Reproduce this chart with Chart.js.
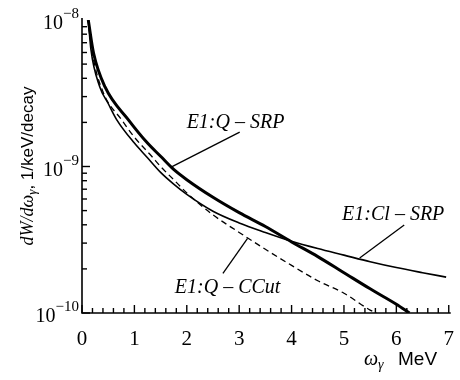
<!DOCTYPE html>
<html>
<head>
<meta charset="utf-8">
<script src="https://cdn.jsdelivr.net/npm/chart.js@4.4.0/dist/chart.umd.min.js"></script>
<style>
  html, body { margin: 0; padding: 0; background: #fff; }
  #wrap { width: 460px; height: 380px; }
</style>
</head>
<body>
<div id="wrap"><canvas id="specChart" width="460" height="380"></canvas></div>
<script>
// energies in MeV, values as log10(dW/dw)
const qSrpE   = [0.12, 0.22, 0.44, 0.89, 1.25, 1.5, 1.75, 2.0, 2.5, 3.0, 3.5, 4.0, 4.5, 5.0, 5.5, 6.0, 6.25];
const qSrpLog = [-8.0, -8.225, -8.457, -8.683, -8.84, -8.93, -9.02, -9.09, -9.21, -9.315, -9.41, -9.515, -9.615, -9.725, -9.835, -9.94, -10.0];

const clSrpE   = [0.12, 0.17, 0.34, 0.5, 0.667, 1.0, 1.25, 1.5, 1.75, 2.0, 2.5, 3.0, 3.5, 4.0, 4.5, 5.0, 5.5, 6.0, 6.5, 6.95];
const clSrpLog = [-8.0, -8.2, -8.457, -8.57, -8.683, -8.84, -8.94, -9.04, -9.12, -9.19, -9.305, -9.385, -9.45, -9.51, -9.56, -9.605, -9.65, -9.69, -9.725, -9.755];

const qCcutE   = [0.12, 0.2, 0.4, 0.76, 1.0, 1.33, 1.5, 1.75, 2.0, 2.5, 3.0, 3.5, 4.0, 4.5, 5.0, 5.5, 5.62];
const qCcutLog = [-8.0, -8.23, -8.49, -8.683, -8.80, -8.93, -9.0, -9.09, -9.18, -9.33, -9.45, -9.565, -9.675, -9.78, -9.865, -9.98, -10.0];

const xTicks = [0, 1, 2, 3, 4, 5, 6, 7];
const yDecades = [-8, -9, -10];

// curve labels: text, label position, leader line start/end (data coords, log10 y)
const curveLabels = [
  { text: 'E1:Q \u2013 SRP',  at: [2.93, -8.70], from: [3.01, -8.765], to: [1.71, -9.003] },
  { text: 'E1:Cl \u2013 SRP', at: [5.94, -9.33], from: [6.15, -9.40],  to: [5.30, -9.625] },
  { text: 'E1:Q \u2013 CCut', at: [2.78, -9.83], from: [2.69, -9.73],  to: [3.16, -9.49] }
];

function toPoints(es, logs) {
  return es.map((e, i) => ({ x: e, y: Math.pow(10, logs[i]) }));
}

const serif = '"Liberation Serif", "DejaVu Serif", serif';
const sans = '"Liberation Sans", Arial, sans-serif';

const decorPlugin = {
  id: 'decor',
  afterDraw(chart) {
    const ctx = chart.ctx;
    const xs = chart.scales.x, ys = chart.scales.y;
    const left = xs.left, bottom = ys.bottom, top = ys.top, right = xs.right;
    ctx.save();
    ctx.setLineDash([]);
    ctx.strokeStyle = '#000';
    ctx.fillStyle = '#000';

    // axis lines
    ctx.lineWidth = 1.6;
    ctx.beginPath();
    ctx.moveTo(left, top - 2);
    ctx.lineTo(left, bottom);
    ctx.lineTo(right + 2, bottom);
    ctx.stroke();

    // x ticks (inward)
    ctx.lineWidth = 1.4;
    for (let i = 0; i <= 35; i++) {
      const px = xs.getPixelForValue(i * 0.2);
      const len = (i % 5 === 0) ? 8 : 5;
      ctx.beginPath();
      ctx.moveTo(px, bottom);
      ctx.lineTo(px, bottom - len);
      ctx.stroke();
    }
    // y ticks (inward), log minors
    for (let d = -10; d < -8; d++) {
      for (let m = 1; m <= 9; m++) {
        const py = ys.getPixelForValue(m * Math.pow(10, d));
        const len = (m === 1) ? 8 : 5;
        ctx.beginPath();
        ctx.moveTo(left, py);
        ctx.lineTo(left + len, py);
        ctx.stroke();
      }
    }

    // y tick labels 10^n
    yDecades.forEach(d => {
      const py = ys.getPixelForValue(Math.pow(10, d));
      const sup = '\u2212' + String(-d);
      ctx.font = '15px ' + serif;
      const supW = ctx.measureText(sup).width;
      const supX = left - 3 - supW;
      ctx.textBaseline = 'alphabetic';
      ctx.textAlign = 'left';
      ctx.fillText(sup, supX, py - 2);
      ctx.font = '20px ' + serif;
      ctx.textAlign = 'right';
      ctx.fillText('10', supX, py + 9);
    });

    // y axis title, rotated
    ctx.save();
    ctx.translate(28, 166);
    ctx.rotate(-Math.PI / 2);
    ctx.textBaseline = 'middle';
    const p1 = 'dW/d\u03c9';
    const p2 = '\u03b3';
    const p3 = ', 1/keV/decay';
    ctx.font = 'italic 18px ' + serif;
    const w1 = ctx.measureText(p1).width;
    ctx.font = 'italic 13px ' + serif;
    const w2 = ctx.measureText(p2).width;
    ctx.font = '17px ' + sans;
    const w3 = ctx.measureText(p3).width;
    let tx = -(w1 + w2 + w3) / 2;
    ctx.textAlign = 'left';
    ctx.font = 'italic 18px ' + serif;
    ctx.fillText(p1, tx, 0);
    tx += w1;
    ctx.font = 'italic 13px ' + serif;
    ctx.fillText(p2, tx, 5);
    tx += w2;
    ctx.font = '17px ' + sans;
    ctx.fillText(p3, tx, 0);
    ctx.restore();

    // x axis title
    ctx.textBaseline = 'alphabetic';
    ctx.textAlign = 'left';
    ctx.font = 'italic 20px ' + serif;
    ctx.fillText('\u03c9', 364, 365);
    ctx.font = 'italic 14px ' + serif;
    ctx.fillText('\u03b3', 378, 369);
    ctx.font = '19px ' + sans;
    ctx.fillText('MeV', 398, 365);

    // curve labels with leader lines
    ctx.lineWidth = 1.3;
    curveLabels.forEach(l => {
      ctx.beginPath();
      ctx.moveTo(xs.getPixelForValue(l.from[0]), ys.getPixelForValue(Math.pow(10, l.from[1])));
      ctx.lineTo(xs.getPixelForValue(l.to[0]), ys.getPixelForValue(Math.pow(10, l.to[1])));
      ctx.stroke();
      ctx.font = 'italic 20px ' + serif;
      ctx.textAlign = 'center';
      ctx.textBaseline = 'middle';
      ctx.fillText(l.text, xs.getPixelForValue(l.at[0]), ys.getPixelForValue(Math.pow(10, l.at[1])));
    });
    ctx.restore();
  }
};

const ctx = document.getElementById('specChart').getContext('2d');
const specChart = new Chart(ctx, {
  type: 'scatter',
  data: {
    datasets: [{
      label: 'E1:Q - SRP',
      data: toPoints(qSrpE, qSrpLog),
      showLine: true,
      borderColor: '#000',
      borderWidth: 3,
      pointRadius: 0,
      cubicInterpolationMode: 'monotone'
    }, {
      label: 'E1:Cl - SRP',
      data: toPoints(clSrpE, clSrpLog),
      showLine: true,
      borderColor: '#000',
      borderWidth: 1.6,
      pointRadius: 0,
      cubicInterpolationMode: 'monotone'
    }, {
      label: 'E1:Q - CCut',
      data: toPoints(qCcutE, qCcutLog),
      showLine: true,
      borderColor: '#000',
      borderWidth: 1.3,
      borderDash: [6, 4],
      pointRadius: 0,
      cubicInterpolationMode: 'monotone'
    }]
  },
  options: {
    responsive: false,
    animation: false,
    layout: { padding: { top: 20, right: 10, left: 0, bottom: 0 } },
    plugins: { legend: { display: false }, tooltip: { enabled: false } },
    scales: {
      x: {
        type: 'linear',
        min: 0, max: 7,
        grid: { display: false },
        border: { display: false },
        afterBuildTicks: s => { s.ticks = xTicks.map(v => ({ value: v })); },
        afterFit: s => { s.height = 67; },
        ticks: { color: '#000', font: { family: serif, size: 21 }, padding: 6, maxRotation: 0 }
      },
      y: {
        type: 'logarithmic',
        min: 1e-10, max: 1e-8,
        grid: { display: false },
        border: { display: false },
        afterFit: s => { s.width = 82; },
        ticks: { display: false }
      }
    }
  },
  plugins: [decorPlugin]
});
</script>
</body>
</html>
